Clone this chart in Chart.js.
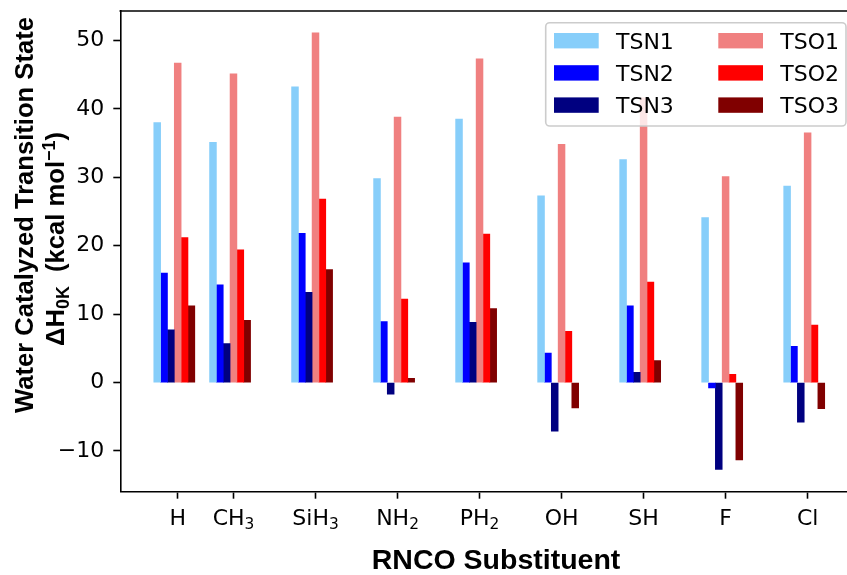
<!DOCTYPE html>
<html>
<head>
<meta charset="utf-8">
<title>Water Catalyzed Transition State</title>
<script src="https://cdn.jsdelivr.net/npm/chart.js@4.4.0/dist/chart.umd.min.js"></script>
<style>
    html, body { margin: 0; padding: 0; background: #fff; }
</style>
</head>
<body>
<canvas id="enthalpyChart" width="847" height="575"></canvas>
<script>
// RNCO substituents and where they sit on the x axis (H is closer to CH3)
const substituents = ['H', 'CH3', 'SiH3', 'NH2', 'PH2', 'OH', 'SH', 'F', 'Cl'];
const positions = [0.32, 1, 2, 3, 4, 5, 6, 7, 8];

// dH(0K) of the water catalyzed transition states, kcal/mol
const tsn1 = [38.0, 35.1, 43.2, 29.8, 38.5, 27.3, 32.6, 24.1, 28.7];
const tsn2 = [16.0, 14.3, 21.8, 8.9, 17.5, 4.3, 11.2, -0.8, 5.3];
const tsn3 = [7.7, 5.7, 13.2, -1.7, 8.8, -7.1, 1.5, -12.7, -5.8];
const tso1 = [46.7, 45.1, 51.1, 38.8, 47.3, 34.8, 41.6, 30.1, 36.5];
const tso2 = [21.2, 19.4, 26.8, 12.2, 21.7, 7.5, 14.7, 1.2, 8.4];
const tso3 = [11.2, 9.1, 16.5, 0.6, 10.8, -3.7, 3.2, -11.3, -3.8];

const seriesNames = ['TSN1', 'TSN2', 'TSN3', 'TSO1', 'TSO2', 'TSO3'];
const yTicks = [-10, 0, 10, 20, 30, 40, 50];

const colors = ['#87cefa', '#0000ff', '#000080', '#f08080', '#ff0000', '#800000'];
const barWidth = 1 / 12; // x units, bars placed side by side like plt.bar(x + i*w)

const series = [tsn1, tsn2, tsn3, tso1, tso2, tso3];
const datasets = series.map((vals, i) => ({
    label: seriesNames[i],
    data: vals.map((v, j) => ({ x: positions[j] + (i - 3) * barWidth, y: v })),
    backgroundColor: colors[i],
    borderWidth: 0,
    grouped: false,
    barThickness: 6.84
}));

const TICK_FONT = '"DejaVu Sans", sans-serif';
const TITLE_FONT = '"Liberation Sans", Arial, sans-serif';

// draws the parts matplotlib had: top spine, sub/superscript labels, boxed legend
const annotate = {
    id: 'annotate',
    afterDraw(chart) {
        const c = chart.ctx;
        const area = chart.chartArea;
        const xs = chart.scales.x;
        c.save();

        // top spine
        c.strokeStyle = '#000';
        c.lineWidth = 1.6;
        c.beginPath();
        c.moveTo(area.left - 0.8, area.top);
        c.lineTo(area.right, area.top);
        c.stroke();

        // x tick labels, trailing digits as subscripts
        c.fillStyle = '#000';
        c.textBaseline = 'alphabetic';
        c.textAlign = 'left';
        substituents.forEach((name, j) => {
            const m = name.match(/^(\D+)(\d*)$/);
            c.font = '22px ' + TICK_FONT;
            const w1 = c.measureText(m[1]).width;
            c.font = '15.4px ' + TICK_FONT;
            const w2 = m[2] ? c.measureText(m[2]).width : 0;
            const x0 = xs.getPixelForValue(positions[j]) - (w1 + w2) / 2;
            c.font = '22px ' + TICK_FONT;
            c.fillText(m[1], x0, 524.5);
            if (m[2]) {
                c.font = '15.4px ' + TICK_FONT;
                c.fillText(m[2], x0 + w1, 528.5);
            }
        });

        // x axis title
        c.font = 'bold 28.5px ' + TITLE_FONT;
        c.textAlign = 'center';
        c.fillText('RNCO Substituent', 496, 569);

        // y axis title, two lines
        c.font = 'bold 25.6px ' + TITLE_FONT;
        c.save();
        c.translate(33.3, 215);
        c.rotate(-Math.PI / 2);
        c.fillText('Water Catalyzed Transition State', 0, 0);
        c.restore();

        const parts = [
            ['\u0394H', 1, 0],
            ['0K', 0.7, 4.5],
            ['  (kcal mol', 1, 0],
            ['\u22121', 0.7, -9.5],
            [')', 1, 0]
        ];
        let total = 0;
        parts.forEach(p => {
            c.font = 'bold ' + (25.6 * p[1]) + 'px ' + TITLE_FONT;
            p.push(c.measureText(p[0]).width);
            total += p[3];
        });
        c.save();
        c.translate(64, 239);
        c.rotate(-Math.PI / 2);
        c.textAlign = 'left';
        let px = -total / 2;
        parts.forEach(p => {
            c.font = 'bold ' + (25.6 * p[1]) + 'px ' + TITLE_FONT;
            c.fillText(p[0], px, p[2]);
            px += p[3];
        });
        c.restore();

        // legend, two columns of three
        const lx = 545.7, ly = 22.7, lw = 300.3, lh = 103.3, r = 4;
        c.beginPath();
        c.moveTo(lx + r, ly);
        c.arcTo(lx + lw, ly, lx + lw, ly + lh, r);
        c.arcTo(lx + lw, ly + lh, lx, ly + lh, r);
        c.arcTo(lx, ly + lh, lx, ly, r);
        c.arcTo(lx, ly, lx + lw, ly, r);
        c.closePath();
        c.fillStyle = 'rgba(255,255,255,0.8)';
        c.fill();
        c.strokeStyle = '#cccccc';
        c.lineWidth = 1.6;
        c.stroke();

        c.textAlign = 'left';
        c.font = '22px ' + TICK_FONT;
        chart.data.datasets.forEach((ds, i) => {
            const sx = 554 + Math.floor(i / 3) * 164.3;
            const cy = 40.7 + (i % 3) * 32.2;
            c.fillStyle = ds.backgroundColor;
            c.fillRect(sx, cy - 7.7, 44.7, 15.4);
            c.fillStyle = '#000';
            c.fillText(ds.label, sx + 62, cy + 8);
        });

        c.restore();
    }
};

const ctx = document.getElementById('enthalpyChart').getContext('2d');
new Chart(ctx, {
    type: 'bar',
    data: { datasets: datasets },
    plugins: [annotate],
    options: {
        responsive: false,
        animation: false,
        layout: { padding: { top: 11, right: 0, bottom: 0, left: 0 } },
        plugins: {
            legend: { display: false },
            tooltip: { enabled: false }
        },
        scales: {
            x: {
                type: 'linear',
                min: -0.38,
                max: 8.48,
                offset: false,
                afterBuildTicks: scale => {
                    scale.ticks = positions.map(v => ({ value: v }));
                },
                afterFit: scale => {
                    scale.height = 83.3;
                    scale.paddingLeft = 0;
                    scale.paddingRight = 0;
                },
                ticks: { callback: () => '', padding: 0 },
                grid: {
                    offset: false,
                    drawOnChartArea: false,
                    tickLength: 7,
                    tickWidth: 1.6,
                    tickColor: '#000'
                },
                border: { display: true, color: '#000', width: 1.6 }
            },
            y: {
                min: -15.95,
                max: 54.3,
                afterBuildTicks: scale => {
                    scale.ticks = yTicks.map(v => ({ value: v }));
                },
                afterFit: scale => {
                    scale.width = 120.3;
                    scale.paddingTop = 0;
                    scale.paddingBottom = 0;
                },
                ticks: {
                    color: '#000',
                    padding: 9,
                    font: { family: 'DejaVu Sans', size: 22 },
                    callback: v => (v < 0 ? '\u2212' + Math.abs(v) : String(v))
                },
                grid: {
                    drawOnChartArea: false,
                    tickLength: 7,
                    tickWidth: 1.6,
                    tickColor: '#000'
                },
                border: { display: true, color: '#000', width: 1.6 }
            }
        }
    }
});
</script>
</body>
</html>
